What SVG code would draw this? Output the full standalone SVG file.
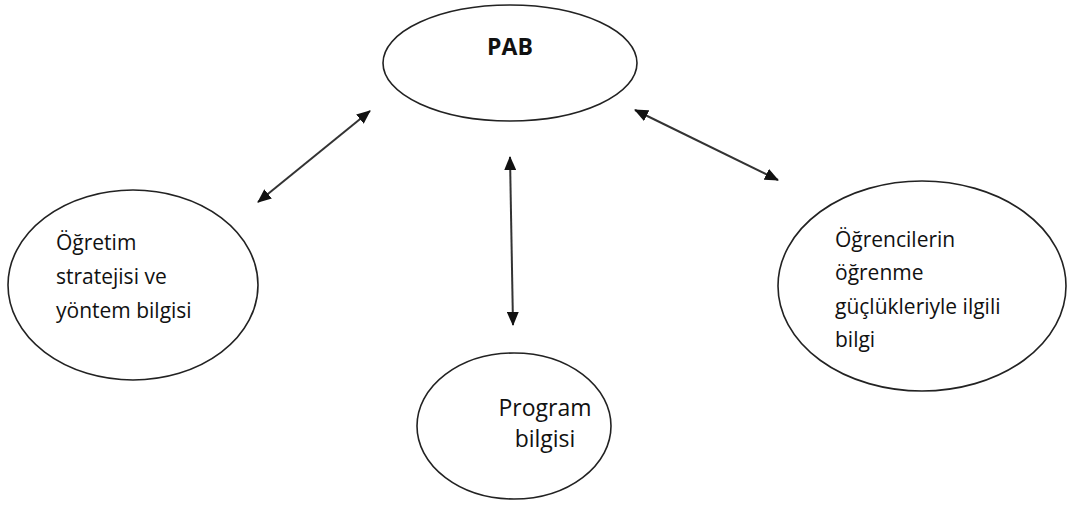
<svg xmlns="http://www.w3.org/2000/svg" width="1070" height="506" viewBox="0 0 1070 506">
<defs>
<style>
.node{fill:#fff;stroke:#222;stroke-width:1.6}
.t{font-family:"Open Sans","Liberation Sans",sans-serif;font-size:21px;fill:#111}
.b{font-weight:bold;font-size:23px}
.c{stroke:#333;stroke-width:2;fill:none;marker-start:url(#ah);marker-end:url(#ah)}
</style>
<marker id="ah" viewBox="0 0 14 12" refX="13" refY="6" markerWidth="14" markerHeight="12" markerUnits="userSpaceOnUse" orient="auto-start-reverse">
<path d="M0,0 L14,6 L0,12 Z" fill="#111"/>
</marker>
</defs>
<rect width="1070" height="506" fill="#fff"/>
<g id="connectors">
<line class="c" x1="258" y1="202" x2="370" y2="111"/>
<line class="c" x1="635" y1="110" x2="778" y2="180"/>
<line class="c" x1="510" y1="157" x2="513" y2="325"/>
</g>
<g id="pab">
<ellipse class="node" cx="510" cy="63" rx="127" ry="58"/>
<text class="t b" x="510" y="55" text-anchor="middle">PAB</text>
</g>
<g id="ogretim">
<ellipse class="node" cx="133" cy="285" rx="125" ry="95"/>
<text class="t" x="56" y="250">Öğretim</text>
<text class="t" x="56" y="284">stratejisi ve</text>
<text class="t" x="56" y="318">yöntem bilgisi</text>
</g>
<g id="ogrenciler">
<ellipse class="node" cx="922" cy="286" rx="144" ry="105"/>
<text class="t" x="835" y="247">Öğrencilerin</text>
<text class="t" x="835" y="280">öğrenme</text>
<text class="t" x="835" y="314">güçlükleriyle ilgili</text>
<text class="t" x="835" y="347">bilgi</text>
</g>
<g id="program">
<ellipse class="node" cx="514" cy="426" rx="97" ry="73"/>
<text class="t" x="545" y="416" text-anchor="middle" style="font-size:23px">Program</text>
<text class="t" x="545" y="447" text-anchor="middle" style="font-size:23px">bilgisi</text>
</g>
</svg>
